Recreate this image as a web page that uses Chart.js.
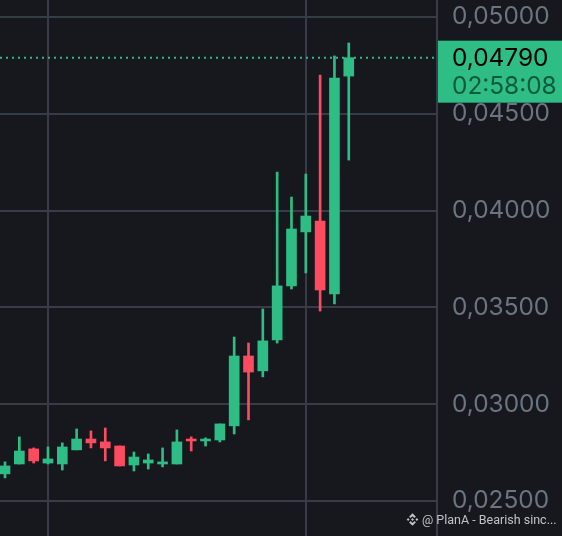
<!DOCTYPE html>
<html>
<head>
<meta charset="utf-8">
<style>
  html, body { margin: 0; padding: 0; background: #17181e; overflow: hidden; }
  #wrap { position: relative; width: 562px; height: 536px; }
  #watermark {
    position: absolute; left: 405px; top: 510px; height: 18px; display: flex; align-items: center; gap: 2px;
    font: 12.5px Roboto, sans-serif; color: #c0c3ca; white-space: nowrap;
  }
</style>
</head>
<body>
<div id="wrap">
  <canvas id="chart" width="562" height="536"></canvas>
  <div id="watermark">
    <svg width="15" height="15" viewBox="0 0 24 24" fill="#c0c3ca">
      <path d="M12 2l5.4 5.4-2.3 2.3L12 6.6 8.9 9.7 6.6 7.4zM12 22l-5.4-5.4 2.3-2.3 3.1 3.1 3.1-3.1 2.3 2.3zM5 9.7L7.3 12 5 14.3 2.7 12zM19 9.7l2.3 2.3-2.3 2.3-2.3-2.3zM12 9.7l2.3 2.3-2.3 2.3L9.7 12z"/>
    </svg>
    <span>@ PlanA - Bearish sinc...</span>
  </div>
</div>
<script src="https://cdn.jsdelivr.net/npm/chart.js@4"></script>
<script>
const opens  = [0.02640, 0.02691, 0.02769, 0.02696, 0.02691, 0.02764, 0.02820, 0.02805, 0.02784, 0.02686, 0.02696, 0.02691, 0.02691, 0.02820, 0.02810, 0.02815, 0.02888, 0.03249, 0.03172, 0.03332, 0.03611, 0.03890, 0.03946, 0.03569, 0.04695];
const highs  = [0.02702, 0.02831, 0.02774, 0.02779, 0.02800, 0.02872, 0.02862, 0.02877, 0.02784, 0.02753, 0.02743, 0.02774, 0.02867, 0.02831, 0.02826, 0.02898, 0.03347, 0.03316, 0.03492, 0.04199, 0.04070, 0.04189, 0.04700, 0.04799, 0.04866];
const lows   = [0.02619, 0.02691, 0.02696, 0.02691, 0.02660, 0.02764, 0.02774, 0.02707, 0.02681, 0.02655, 0.02665, 0.02676, 0.02691, 0.02758, 0.02784, 0.02805, 0.02846, 0.02919, 0.03141, 0.03316, 0.03595, 0.03678, 0.03481, 0.03518, 0.04261];
const closes = [0.02681, 0.02758, 0.02707, 0.02717, 0.02779, 0.02820, 0.02800, 0.02774, 0.02681, 0.02727, 0.02712, 0.02702, 0.02805, 0.02810, 0.02820, 0.02898, 0.03249, 0.03166, 0.03327, 0.03611, 0.03905, 0.03972, 0.03590, 0.04685, 0.04790];
const priceTicks = [0.025, 0.03, 0.035, 0.04, 0.045, 0.05];
const timeGridCandles = [3, 21];
const lastPrice = 0.04790;
const countdown = '02:58:08';

const UP = '#2ebd85';
const DOWN = '#fd4b60';
const GRID = '#383b48';
const FONT = 'Inter, sans-serif';

const xMin = -0.35;
const xMax = 30.16;

const colors = closes.map((c, i) => (c >= opens[i] ? UP : DOWN));
const fmt = v => v.toFixed(5).replace('.', ',');

const priceTag = {
  id: 'priceTag',
  afterDraw(chart) {
    const { ctx, scales } = chart;
    const y = scales.y.getPixelForValue(lastPrice);
    ctx.save();
    ctx.fillStyle = UP;
    ctx.fillRect(438, y - 17, 124, 62);
    ctx.font = '24.4px ' + FONT;
    ctx.textBaseline = 'middle';
    ctx.textAlign = 'left';
    ctx.fillStyle = '#000';
    ctx.fillText(fmt(lastPrice), 452, y + 1);
    ctx.fillStyle = '#0d5a3c';
    ctx.fillText(countdown, 452, y + 29);
    ctx.restore();
  }
};

new Chart(document.getElementById('chart'), {
  type: 'bar',
  data: {
    datasets: [
      {
        type: 'line',
        data: [{ x: xMin, y: lastPrice }, { x: xMax, y: lastPrice }],
        borderColor: UP,
        borderWidth: 2,
        borderDash: [2, 4],
        pointRadius: 0,
        order: 0,
      },
      {
        data: closes.map((c, i) => ({ x: i, y: [opens[i], c] })),
        backgroundColor: colors,
        barThickness: 10,
        grouped: false,
        order: 1,
      },
      {
        data: highs.map((h, i) => ({ x: i, y: [lows[i], h] })),
        backgroundColor: colors,
        barThickness: 2,
        grouped: false,
        order: 2,
      },
    ]
  },
  options: {
    responsive: false,
    animation: false,
    layout: { padding: 0 },
    plugins: {
      legend: { display: false },
      tooltip: { enabled: false },
    },
    scales: {
      x: {
        type: 'linear',
        offset: false,
        min: xMin,
        max: xMax,
        afterBuildTicks: scale => { scale.ticks = timeGridCandles.map(value => ({ value })); },
        grid: { color: GRID, lineWidth: 2, drawTicks: false, offset: false },
        border: { display: false },
        ticks: { display: false },
      },
      y: {
        position: 'right',
        min: 0.02319,
        max: 0.05088,
        afterBuildTicks: scale => { scale.ticks = priceTicks.map(value => ({ value })); },
        // labels sit inside the axis, no need to shrink the plot for them
        afterFit: scale => {
          scale.width = 125;
          scale.paddingTop = 0;
          scale.paddingBottom = 0;
        },
        grid: { color: GRID, lineWidth: 2, drawTicks: false },
        border: { color: GRID, width: 2 },
        ticks: {
          padding: 15,
          color: '#6c7482',
          font: { family: FONT, size: 24.4 },
          callback: fmt,
        },
      },
    }
  },
  plugins: [priceTag]
});
</script>
</body>
</html>
